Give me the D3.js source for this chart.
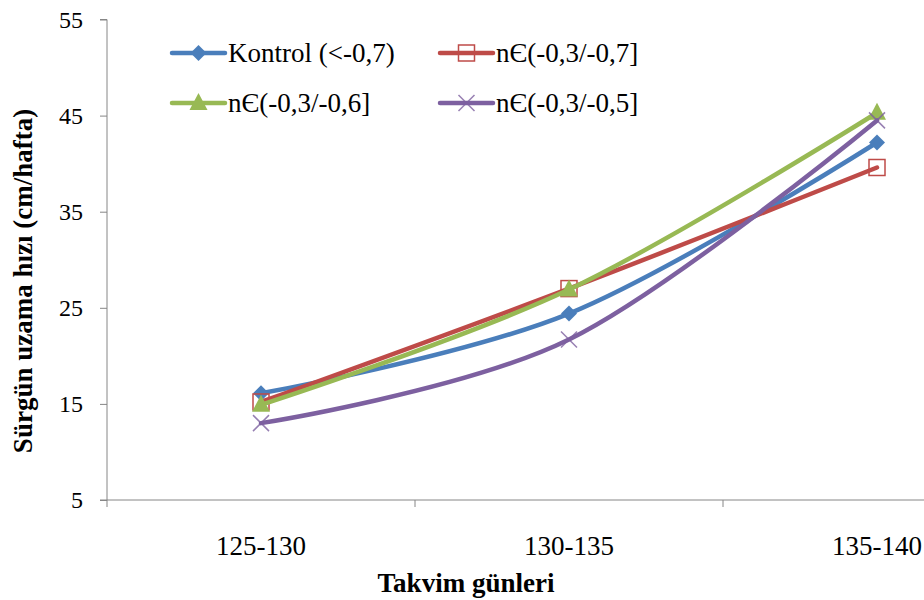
<!DOCTYPE html>
<html><head><meta charset="utf-8">
<script src="https://cdn.jsdelivr.net/npm/d3@7"></script>
<style>body{margin:0;background:#fff}svg{display:block}svg text{font-family:"Liberation Serif","Times New Roman",Times,"DejaVu Serif",serif !important}</style>
</head><body><svg id="c" width="924" height="600"></svg>
<script>
const categories = ["125-130", "130-135", "135-140"];
const seriesNames = ["Kontrol (<-0,7)", "n\u0404(-0,3/-0,7]", "n\u0404(-0,3/-0,6]", "n\u0404(-0,3/-0,5]"];
const kontrol = [16.1, 24.4, 42.2];
const s07 = [15.2, 27.0, 39.6];
const s06 = [14.9, 26.9, 45.3];
const s05 = [13.0, 21.7, 44.5];
const yTicks = [5, 15, 25, 35, 45, 55];
const xTitle = "Takvim günleri";
const yTitle = "Sürgün uzama hızı (cm/hafta)";

const seriesValues = [kontrol, s07, s06, s05];
const colors = ["#4a7ebb", "#be4b48", "#98b954", "#7d60a0"];
const markers = ["diamond", "square", "triangle", "x"];
const FONT = '"Liberation Serif","Times New Roman",Times,"DejaVu Serif",serif';

const svg = d3.select("#c");
const x = d3.scaleBand().domain(categories).range([107, 1031]).padding(0);
const y = d3.scaleLinear().domain([5, 55]).range([500, 19.5]);
const axisColor = "#868686";

// Y axis
const yAxis = svg.append("g").attr("transform", "translate(107,0)")
  .call(d3.axisLeft(y).tickValues(yTicks).tickSize(7).tickPadding(17));
yAxis.attr("font-family", FONT);
yAxis.select(".domain").attr("stroke", axisColor).attr("d", `M-7,${y(55)}H0V${y(5)}`);
yAxis.selectAll(".tick line").attr("stroke", axisColor);
yAxis.selectAll(".tick text").attr("font-size", 24).attr("fill", "#000").attr("font-family", FONT);

// X axis
const xg = svg.append("g").attr("transform", "translate(0,500)").attr("font-family", FONT);
xg.append("line").attr("x1", 100).attr("x2", 1031).attr("y1", 0).attr("y2", 0).attr("stroke", axisColor);
const bounds = categories.map(c => x(c)).concat([x(categories[categories.length-1]) + x.bandwidth()]);
xg.selectAll("line.tk").data(bounds).join("line").attr("class", "tk")
  .attr("x1", d => d).attr("x2", d => d).attr("y1", 0).attr("y2", 7).attr("stroke", axisColor);
xg.selectAll("text.lbl").data(categories).join("text").attr("class", "lbl")
  .attr("x", d => x(d) + x.bandwidth()/2).attr("y", 55)
  .attr("text-anchor", "middle").attr("font-size", 27).text(d => d);

// titles
svg.append("text").attr("x", 466).attr("y", 592).attr("text-anchor", "middle")
  .attr("font-size", 27).attr("font-weight", "bold").text(xTitle);
svg.append("text").attr("transform", `translate(32,281) rotate(-90)`).attr("text-anchor", "middle")
  .attr("font-size", 27).attr("font-weight", "bold").text(yTitle);

function drawMarker(g, type, cx, cy, color) {
  if (type === "diamond") {
    g.append("path").attr("d", `M${cx},${cy-8}L${cx+8},${cy}L${cx},${cy+8}L${cx-8},${cy}Z`).attr("fill", color);
  } else if (type === "square") {
    g.append("rect").attr("x", cx-8).attr("y", cy-8).attr("width", 16).attr("height", 16)
      .attr("fill", "none").attr("stroke", color).attr("stroke-width", 1.5);
  } else if (type === "triangle") {
    g.append("path").attr("d", `M${cx},${cy-10}L${cx+9},${cy+7}L${cx-9},${cy+7}Z`).attr("fill", color);
  } else if (type === "x") {
    g.append("path").attr("d", `M${cx-8},${cy-8}L${cx+8},${cy+8}M${cx-8},${cy+8}L${cx+8},${cy-8}`)
      .attr("stroke", color).attr("stroke-width", 1.5).attr("opacity", 0.8);
  }
}

const line = d3.line().curve(d3.curveCatmullRom.alpha(0))
  .x((d, i) => x(categories[i]) + x.bandwidth()/2).y(d => y(d));

seriesValues.forEach((vals, si) => {
  const g = svg.append("g");
  g.append("path").attr("d", line(vals)).attr("fill", "none").attr("stroke", colors[si])
    .attr("stroke-width", 4.5).attr("stroke-linecap", "round");
  vals.forEach((v, i) => drawMarker(g, markers[si], x(categories[i]) + x.bandwidth()/2, y(v), colors[si]));
});

// legend
const legendPos = [[172, 53], [440, 53], [172, 103], [440, 103]];
seriesNames.forEach((name, si) => {
  const [lx, ly] = legendPos[si];
  const g = svg.append("g");
  g.append("line").attr("x1", lx).attr("x2", lx + 53).attr("y1", ly).attr("y2", ly)
    .attr("stroke", colors[si]).attr("stroke-width", 4.5).attr("stroke-linecap", "round");
  drawMarker(g, markers[si], lx + 26.5, ly, colors[si]);
  g.append("text").attr("x", lx + 56).attr("y", ly + 9).attr("font-size", 27)
    .attr("font-family", FONT).text(name);
});
</script></body></html>
